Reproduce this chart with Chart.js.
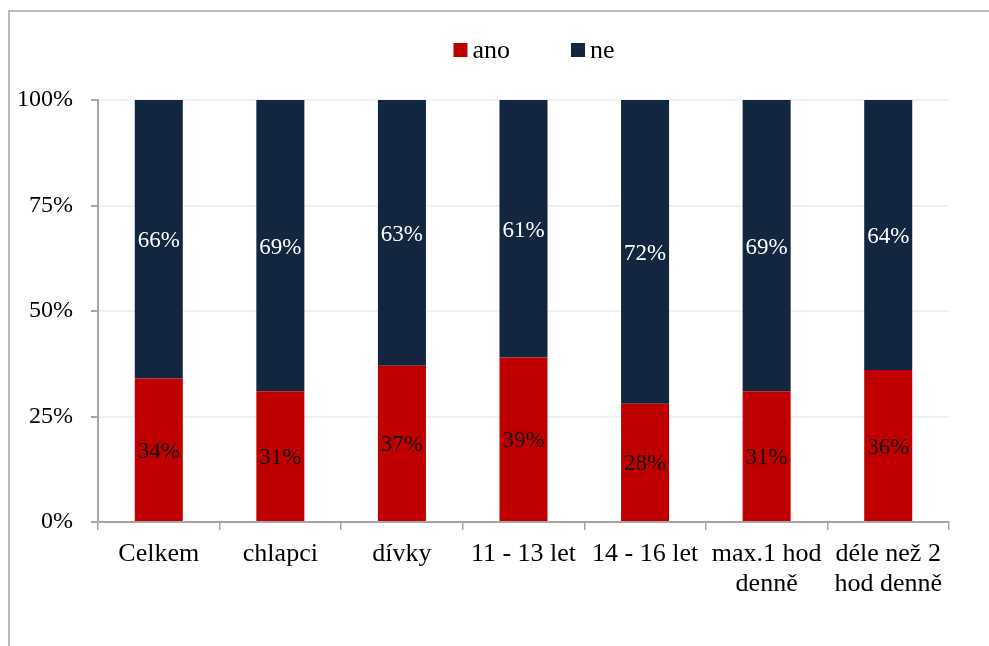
<!DOCTYPE html>
<html>
<head>
<meta charset="utf-8">
<script src="https://cdn.jsdelivr.net/npm/chart.js@4/dist/chart.umd.min.js"></script>
<style>
  html, body { margin: 0; padding: 0; background: #fff; }
  #wrap { width: 989px; height: 646px; }
</style>
</head>
<body>
<div id="wrap"><canvas id="myChart"></canvas></div>
<script>
var categories = ["Celkem", "chlapci", "dívky", "11 - 13 let", "14 - 16 let", ["max.1 hod", "denně"], ["déle než 2", "hod denně"]];
var ano = [34, 31, 37, 39, 28, 31, 36];
var ne = [66, 69, 63, 61, 72, 69, 64];
var yTicks = [0, 25, 50, 75, 100];

var FONT = "'Liberation Serif', 'Times New Roman', serif";

// frame around the chart (only top and left edges are visible)
var framePlugin = {
  id: "frame",
  beforeDraw: function (chart) {
    var c = chart.ctx;
    c.save();
    c.strokeStyle = "#a6a6a6";
    c.lineWidth = 1.5;
    c.beginPath();
    c.moveTo(9, chart.height);
    c.lineTo(9, 11);
    c.lineTo(chart.width, 11);
    c.stroke();
    c.restore();
  }
};

// legend drawn by hand so box and text sit close together
var legendPlugin = {
  id: "simpleLegend",
  afterDraw: function (chart) {
    var c = chart.ctx;
    c.save();
    c.font = "26px " + FONT;
    c.textBaseline = "middle";
    var box = 14, gap = 5, spacing = 61;
    var items = chart.data.datasets.map(function (ds) {
      return { text: ds.label, color: ds.backgroundColor, w: c.measureText(ds.label).width };
    });
    var total = 0;
    items.forEach(function (it, i) {
      total += box + gap + it.w + (i > 0 ? spacing : 0);
    });
    var x = 534 - total / 2;
    var y = 50;
    items.forEach(function (it) {
      c.fillStyle = it.color;
      c.fillRect(x, y - box / 2, box, box);
      c.fillStyle = "#000";
      c.fillText(it.text, x + box + gap, y + 1);
      x += box + gap + it.w + spacing;
    });
    c.restore();
  }
};

// percentage labels in the middle of each bar segment
var labelPlugin = {
  id: "barLabels",
  afterDatasetsDraw: function (chart) {
    var c = chart.ctx;
    c.save();
    c.font = "23px " + FONT;
    c.textAlign = "center";
    c.textBaseline = "middle";
    chart.data.datasets.forEach(function (ds, di) {
      var meta = chart.getDatasetMeta(di);
      meta.data.forEach(function (bar, i) {
        var p = bar.getProps(["x", "y", "base"], true);
        c.fillStyle = ds.labelColor;
        c.fillText(ds.data[i] + "%", p.x, (p.y + p.base) / 2 + 2);
      });
    });
    c.restore();
  }
};

var ctx = document.getElementById("myChart").getContext("2d");
var myChart = new Chart(ctx, {
  type: "bar",
  data: {
    labels: categories,
    datasets: [
      {
        label: "ano",
        data: ano,
        backgroundColor: "#c00000",
        labelColor: "#111111",
        barPercentage: 0.395,
        categoryPercentage: 1
      },
      {
        label: "ne",
        data: ne,
        backgroundColor: "#12263f",
        labelColor: "#ffffff",
        barPercentage: 0.395,
        categoryPercentage: 1
      }
    ]
  },
  options: {
    responsive: true,
    maintainAspectRatio: false,
    animation: false,
    layout: { padding: { top: 100, right: 40, left: 0, bottom: 0 } },
    plugins: {
      legend: { display: false },
      tooltip: { enabled: false }
    },
    scales: {
      x: {
        stacked: true,
        afterFit: function (scale) { scale.height = 124; },
        grid: {
          drawOnChartArea: false,
          tickLength: 8,
          tickColor: "#a6a6a6",
          lineWidth: 1.5
        },
        border: { color: "#a6a6a6", width: 2 },
        ticks: {
          color: "#000",
          padding: 9,
          maxRotation: 0,
          autoSkip: false,
          font: { family: FONT, size: 26, lineHeight: 1.15 }
        }
      },
      y: {
        stacked: true,
        min: 0,
        max: 100,
        afterFit: function (scale) { scale.width = 98; },
        afterBuildTicks: function (scale) {
          scale.ticks = yTicks.map(function (v) { return { value: v }; });
        },
        grid: {
          color: "#eef2f7",
          lineWidth: 2,
          tickLength: 7,
          tickColor: "#a6a6a6"
        },
        border: { color: "#a6a6a6", width: 2 },
        ticks: {
          color: "#000",
          padding: 18,
          font: { family: FONT, size: 24 },
          callback: function (v) { return v + "%"; }
        }
      }
    }
  },
  plugins: [framePlugin, legendPlugin, labelPlugin]
});
</script>
</body>
</html>
